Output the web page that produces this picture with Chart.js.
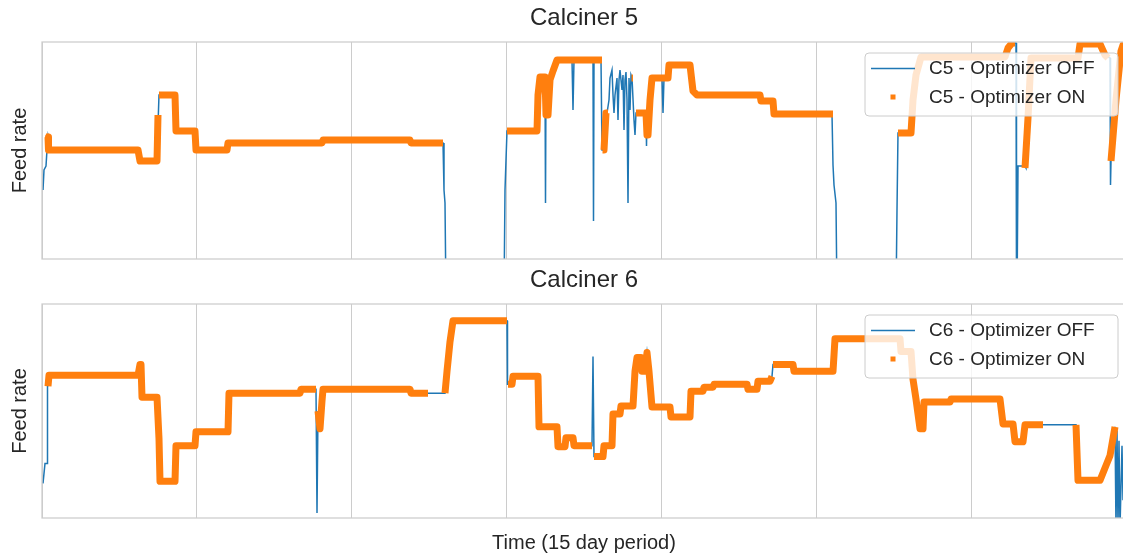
<!DOCTYPE html>
<html>
<head>
<meta charset="utf-8">
<script src="https://cdn.jsdelivr.net/npm/chart.js@4.4.1/dist/chart.umd.min.js"></script>
<style>
  html, body { margin: 0; padding: 0; background: #fff; overflow: hidden; }
  body { width: 1123px; height: 555px; position: relative; }
  canvas { position: absolute; left: 0; }
  #c5 { top: 0; }
  #c6 { top: 262px; }
</style>
</head>
<body>
<canvas id="c5" width="1126" height="262"></canvas>
<canvas id="c6" width="1126" height="293"></canvas>
<script>
// Time axis: sample index over the 15 day period (gridline every 155 samples)
const timeMax = 1084;
const gridStep = 155;

// Calciner 5 - full feed trace [time, rate] (optimizer OFF line)
const c5OffPoints = [
  [1,69],[2,89],[4,93],[5,109],[6,122],[8,109],[96,109],[98,98],[115,98],[116,134],[117,164],[133,164],
  [134,128],[153,128],[154,109],[185,109],[186,116],[280,116],[281,119],[368,119],[369,116],[401,116],
  [402,69],[403,56],[404,-40],[462,-40],[463,69],[464,99],[465,128],[495,128],[496,164],[498,182],
  [503,182],[503.5,56],[504,182],[505,144],[506,144],[508,179],[511,188],[515,199],[530,199],[531,149],
  [532,199],[551,199],[551.5,38],[552,199],[559,199],[560,109],[561,109],[564,146],[565,146],[567,159],
  [568,181],[570,189],[571,164],[572,146],[573,164],[575,181],[576,139],[577,179],[578,189],[580,169],
  [581,184],[582,129],[583,179],[584,187],[585,159],[586,56],[587,181],[588,149],[589,184],[590,181],
  [592,139],[593,124],[594,146],[604,146],[604.5,113],[605,146],[606,124],[608,159],[610,181],[620,181],
  [621,146],[622,181],[626,181],[627,194],[648,194],[651,168],[655,164],[718,164],[719,158],[731,158],
  [732,145],[790,145],[791,94],[792,74],[794,56],[795,-40],[854,-40],[855,49],[856,126],[869,126],
  [871,159],[874,184],[879,202],[963,202],[966,211],[970,216],[974,216],[974.5,-40],[975,-40],[976,93],
  [983,93],[984,91],[986,141],[989,201],[1036,201],[1038,215],[1058,215],[1063,204],[1068,201],
  [1068.5,74],[1069,98],[1074,159],[1079,208],[1081,214],[1084,216]
];

// Calciner 5 - samples with optimizer ON (null = optimizer off)
const c5OnPoints = [
  [4,122],[6,122],[6.5,109],[96,109],[98,98],[115,98],[116,144],[116.5,null],
  [117,164],[133,164],[134,128],[153,128],[154,109],[185,109],[186,116],[280,116],[281,119],[368,119],
  [369,116],[401,116],[402,null],
  [465,128],[495,128],[496,164],[498,182],[503,182],[504,144],[506,144],[508,179],[511,188],[515,199],
  [560,199],[560.2,null],
  [560.5,109],[562,109],[564,146],[566,146],[567,null],
  [589.5,181],[591,181],[591.5,null],
  [594,146],[604,146],[605,124],[606,124],[608,159],[610,181],[626,181],[627,194],[648,194],[651,168],
  [655,164],[718,164],[719,158],[731,158],[732,145],[791,145],[792,null],
  [856,126],[869,126],[871,159],[874,184],[879,202],[963,202],[966,211],[970,216],[973,216],[974,null],
  [983,91],[986,141],[989,201],[1036,201],[1038,215],[1058,215],[1063,204],[1066,201],[1067,null],
  [1069,98],[1074,159],[1079,208],[1081,214],[1084,216]
];

// Calciner 6 - full feed trace
const c6OffPoints = [
  [1,35],[3,55],[5,55],[5.5,140],[6,133],[7,144],[96,144],[98,155],[99,155],[100,122],[115,122],[117,80],
  [118,37],[133,37],[134,73],[153,73],[154,87],[186,87],[187,126],[258,126],[259,130],[274,130],[275,5],
  [276,108],[278,90],[280,118],[281,130],[368,130],[369,126],[403,126],[405,148],[408,178],[411,199],
  [465,199],[465.5,135],[470,135],[471,143],[496,143],[497,92],[515,92],[516,72],[523,72],[524,81],
  [531,81],[532,73],[550,73],[551,163],[552,62],[561,62],[562,73],[570,73],[571,105],[578,105],[579,113],
  [591,113],[593,148],[595,162],[599,162],[600,148],[603,148],[605,167],[607,148],[610,112],[628,112],
  [629,102],[648,102],[649,128],[661,128],[662,132],[671,132],[672,135],[705,135],[706,130],[715,130],
  [716,138],[728,138],[730,143],[731,155],[751,155],[752,148],[791,148],[793,181],[858,181],[859,168],
  [869,168],[871,140],[874,120],[878,90],[881,90],[882,117],[908,117],[909,120],[958,120],[961,95],
  [971,95],[973,77],[981,77],[983,94],[1034,94],[1036,38],[1058,38],[1064,53],[1068,63],[1073,92],
  [1074,-10],[1075,88],[1076,-10],[1077,78],[1078,-10],[1080,73],[1081,18]
];

// Calciner 6 - samples with optimizer ON
const c6OnPoints = [
  [6,133],[7,144],[96,144],[98,155],[99,155],[100,122],[115,122],[117,80],[118,37],[133,37],[134,73],
  [153,73],[154,87],[186,87],[187,126],[258,126],[259,130],[274,130],[275,null],
  [276,108],[278,90],[280,118],[281,130],[368,130],[369,126],[386,126],[387,null],
  [403,126],[405,148],[408,178],[411,199],[465,199],[465.2,null],
  [466,135],[470,135],[471,143],[496,143],[497,92],[515,92],[516,72],[523,72],[524,81],[531,81],
  [532,73],[550,73],[550.5,null],
  [552,62],[561,62],[562,73],[570,73],[571,105],[578,105],[579,113],[591,113],[593,148],[595,162],
  [599,162],[600,148],[603,148],[605,167],[607,148],[610,112],[628,112],[629,102],[648,102],[649,128],
  [661,128],[662,132],[671,132],[672,135],[705,135],[706,130],[715,130],[716,138],[728,138],[730,143],
  [730.5,null],
  [731,155],[751,155],[752,148],[791,148],[793,181],[858,181],[859,168],[869,168],[871,140],[874,120],
  [878,90],[881,90],[882,117],[908,117],[909,120],[958,120],[961,95],[971,95],[973,77],[981,77],
  [983,94],[1001,94],[1002,null],
  [1034,94],[1036,38],[1058,38],[1064,53],[1068,63],[1073,92]
];

const BLUE = '#1f77b4';
const ORANGE = '#ff7f0e';
const TEXT = '#262626';
const GRID = '#cccccc';

Chart.defaults.font.family = "'Liberation Sans', Arial, sans-serif";
Chart.defaults.color = TEXT;

const toXY = (pts) => pts.map(p => ({ x: p[0], y: p[1] }));

// axes frame (all four spines)
const frame = {
  id: 'frame',
  afterDatasetsDraw(chart) {
    const { ctx, chartArea: a } = chart;
    ctx.save();
    ctx.strokeStyle = GRID;
    ctx.lineWidth = 1.25;
    ctx.strokeRect(a.left, a.top, a.right - a.left, a.bottom - a.top);
    ctx.restore();
  }
};

// matplotlib-like legend inside the upper right corner
const legendBox = {
  id: 'legendBox',
  afterDraw(chart) {
    const { ctx, chartArea: a } = chart;
    const w = 253, h = 63;
    const left = a.right - 8 - w, top = a.top + 11;
    const [off, on] = chart.data.datasets;
    ctx.save();
    ctx.beginPath();
    ctx.roundRect(left, top, w, h, 4);
    ctx.fillStyle = 'rgba(255,255,255,0.8)';
    ctx.fill();
    ctx.strokeStyle = GRID;
    ctx.lineWidth = 1;
    ctx.stroke();

    ctx.beginPath();
    ctx.moveTo(left + 6, top + 15.5);
    ctx.lineTo(left + 50, top + 15.5);
    ctx.strokeStyle = off.borderColor;
    ctx.lineWidth = 1.5;
    ctx.stroke();
    ctx.fillStyle = on.borderColor;
    ctx.fillRect(left + 25.5, top + 41.5, 5, 5);

    ctx.fillStyle = TEXT;
    ctx.font = "19px 'Liberation Sans', Arial, sans-serif";
    ctx.textBaseline = 'middle';
    ctx.fillText(off.label, left + 64, top + 16);
    ctx.fillText(on.label, left + 64, top + 44.5);
    ctx.restore();
  }
};

function makeChart(id, title, prefix, offPts, onPts, yMax, xTitle, xHeight) {
  return new Chart(document.getElementById(id), {
    type: 'line',
    data: {
      datasets: [
        {
          label: prefix + ' - Optimizer OFF',
          data: toXY(offPts),
          borderColor: BLUE,
          borderWidth: 1.5,
          pointRadius: 0,
          order: 1
        },
        {
          label: prefix + ' - Optimizer ON',
          data: toXY(onPts),
          borderColor: ORANGE,
          borderWidth: 7,
          borderJoinStyle: 'round',
          pointRadius: 0,
          spanGaps: false,
          order: 0
        }
      ]
    },
    options: {
      responsive: false,
      animation: false,
      layout: { padding: 0 },
      plugins: {
        legend: { display: false },
        tooltip: { enabled: false },
        title: {
          display: true,
          text: title,
          fullSize: false,
          color: TEXT,
          font: { size: 24, weight: 'normal' },
          padding: { top: 4, bottom: 9.2 }
        }
      },
      scales: {
        x: {
          type: 'linear',
          min: 0,
          max: timeMax,
          ticks: { display: false, stepSize: gridStep },
          grid: { color: GRID, lineWidth: 1, drawTicks: false },
          border: { display: false },
          title: {
            display: !!xTitle,
            text: xTitle || '',
            color: TEXT,
            font: { size: 20 },
            padding: 0
          },
          afterFit: s => { s.height = xHeight; }
        },
        y: {
          min: 0,
          max: yMax,
          ticks: { display: false },
          grid: { display: false },
          border: { display: false },
          title: {
            display: true,
            text: 'Feed rate',
            color: TEXT,
            font: { size: 20 },
            padding: { top: 8, bottom: 0 }
          },
          afterFit: s => { s.width = 42; }
        }
      }
    },
    plugins: [frame, legendBox]
  });
}

makeChart('c5', 'Calciner 5', 'C5', c5OffPoints, c5OnPoints, 217, null, 3);
makeChart('c6', 'Calciner 6', 'C6', c6OffPoints, c6OnPoints, 216, 'Time (15 day period)', 37);
</script>
</body>
</html>
